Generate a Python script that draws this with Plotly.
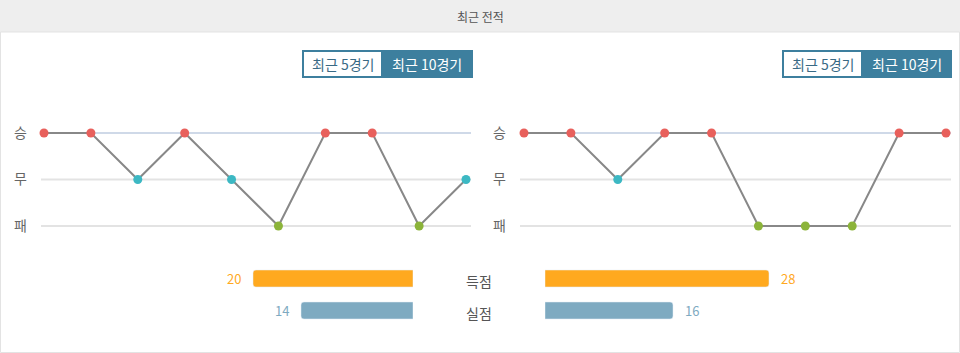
import plotly.graph_objects as go

W, H = 960, 353
FONT = "Noto Sans CJK KR"

# ---- data ----
title_text = "최근 전적"
btn_labels = ["최근 5경기", "최근 10경기"]
result_labels = ["패", "무", "승"]          # level 0,1,2
home_results = ["승", "승", "무", "승", "무", "패", "승", "승", "패", "무"]
away_results = ["승", "승", "무", "승", "승", "패", "패", "패", "승", "승"]
bar_categories = ["득점", "실점"]
home_goals = [20, 14]
away_goals = [28, 16]

# ---- styles ----
RES_COLOR = {"승": "#e8605c", "무": "#3cb8c3", "패": "#8cb43a"}
GRID_COLOR = {"승": "#cfd9e8", "무": "#e3e3e3", "패": "#e3e3e3"}
BAR_COLORS = ["#ffa91f", "#7eaac1"]
LINE_COLOR = "#888888"
BTN_COLOR = "#3d7f9e"


def fx(p):
    return p / W


def fy(p):
    return 1 - p / H


fig = go.Figure()
shapes = []
annotations = []

# header
shapes.append(dict(type="rect", xref="paper", yref="paper", x0=0, x1=1, y0=fy(32), y1=1,
                   fillcolor="#eeeeee", line=dict(width=0), layer="below"))
shapes.append(dict(type="rect", xref="paper", yref="paper", x0=fx(0.5), x1=fx(959.5), y0=fy(352.5), y1=fy(32),
                   fillcolor="rgba(0,0,0,0)", line=dict(color="#e3e3e3", width=1), layer="below"))
annotations.append(dict(text=title_text, xref="paper", yref="paper", x=0.5, y=fy(17), showarrow=False,
                        font=dict(family=FONT, size=12, color="#555555"), xanchor="center", yanchor="middle"))

panels = [
    dict(results=home_results, xdom=(41, 471), first=44, btn=(302, 473), xa="x", ya="y"),
    dict(results=away_results, xdom=(520, 951), first=524, btn=(782, 952), xa="x2", ya="y2"),
]
step = (466 - 44) / 9
ydom = (fy(240), fy(119))

layout_axes = {}
for i, p in enumerate(panels):
    res = p["results"]
    lv = [result_labels.index(r) for r in res]
    xs = list(range(len(res)))
    r0 = -(p["first"] - p["xdom"][0]) / step
    r1 = (len(res) - 1) + (p["xdom"][1] - (p["first"] + step * (len(res) - 1))) / step
    fig.add_trace(go.Scatter(x=xs, y=lv, mode="lines+markers", xaxis=p["xa"], yaxis=p["ya"],
                             line=dict(color=LINE_COLOR, width=2),
                             marker=dict(size=9, color=[RES_COLOR[r] for r in res]),
                             showlegend=False, hoverinfo="skip", cliponaxis=False))
    sfx = "" if i == 0 else "2"
    layout_axes["xaxis" + sfx] = dict(domain=[fx(p["xdom"][0]), fx(p["xdom"][1])], range=[r0, r1],
                                      visible=False, fixedrange=True,
                                      **({} if i == 0 else {"anchor": "y2"}))
    layout_axes["yaxis" + sfx] = dict(domain=list(ydom), range=[-0.3, 2.3], tickvals=[0, 1, 2],
                                      ticktext=result_labels, showgrid=False, zeroline=False,
                                      showline=False, ticks="", ticklabelstandoff=13,
                                      tickfont=dict(family=FONT, size=14, color="#666666"),
                                      **({} if i == 0 else {"anchor": "x2"}))
    for k, lab in enumerate(result_labels):
        shapes.append(dict(type="line", xref=p["xa"] + " domain", yref=p["ya"], x0=0, x1=1, y0=k, y1=k,
                           line=dict(color=GRID_COLOR[lab], width=2), layer="below"))
    # buttons
    bx0, bx1 = p["btn"]
    shapes.append(dict(type="rect", xref="paper", yref="paper", x0=fx(bx0), x1=fx(bx1), y0=fy(78), y1=fy(50),
                       fillcolor=BTN_COLOR, line=dict(width=0)))
    split = bx0 + 79
    shapes.append(dict(type="rect", xref="paper", yref="paper", x0=fx(bx0 + 2), x1=fx(split), y0=fy(76), y1=fy(52),
                       fillcolor="#ffffff", line=dict(width=0)))
    annotations.append(dict(text=btn_labels[0], xref="paper", yref="paper", x=fx((bx0 + 2 + split) / 2), y=fy(64),
                            showarrow=False, font=dict(family=FONT, size=14, color="#3a6a85"),
                            xanchor="center", yanchor="middle"))
    annotations.append(dict(text=btn_labels[1], xref="paper", yref="paper", x=fx((split + bx1) / 2), y=fy(64),
                            showarrow=False, font=dict(family=FONT, size=14, color="#ffffff"),
                            xanchor="center", yanchor="middle"))

# bars
bar_ydom = [fy(326.5), fy(262.5)]
for j, cat in enumerate(bar_categories):
    fig.add_trace(go.Bar(x=[home_goals[j]], y=[cat], orientation="h", xaxis="x3", yaxis="y3",
                         marker=dict(color=BAR_COLORS[j], cornerradius=3), width=0.53,
                         showlegend=False, hoverinfo="skip"))
    fig.add_trace(go.Bar(x=[away_goals[j]], y=[cat], orientation="h", xaxis="x4", yaxis="y4",
                         marker=dict(color=BAR_COLORS[j], cornerradius=3), width=0.53,
                         showlegend=False, hoverinfo="skip"))
    annotations.append(dict(text=str(home_goals[j]), xref="x3", yref="y3", x=home_goals[j], y=cat,
                            xanchor="right", yanchor="middle", xshift=-10, showarrow=False,
                            font=dict(family=FONT, size=13, color=BAR_COLORS[j])))
    annotations.append(dict(text=str(away_goals[j]), xref="x4", yref="y4", x=away_goals[j], y=cat,
                            xanchor="left", yanchor="middle", xshift=10, showarrow=False,
                            font=dict(family=FONT, size=13, color=BAR_COLORS[j])))
    annotations.append(dict(text=cat, xref="paper", yref="y3", x=fx(479), y=cat, yshift=-2,
                            xanchor="center", yanchor="middle", showarrow=False,
                            font=dict(family=FONT, size=14, color="#555555")))

layout_axes["xaxis3"] = dict(domain=[fx(173), fx(413)], range=[30, 0], visible=False, anchor="y3", fixedrange=True)
layout_axes["yaxis3"] = dict(domain=bar_ydom, range=[1.5, -0.5], visible=False, anchor="x3",
                             type="category", categoryorder="array", categoryarray=bar_categories)
layout_axes["xaxis4"] = dict(domain=[fx(545), fx(785)], range=[0, 30], visible=False, anchor="y4", fixedrange=True)
layout_axes["yaxis4"] = dict(domain=bar_ydom, range=[1.5, -0.5], visible=False, anchor="x4",
                             type="category", categoryorder="array", categoryarray=bar_categories)

fig.update_layout(width=W, height=H, margin=dict(l=0, r=0, t=0, b=0),
                  paper_bgcolor="#ffffff", plot_bgcolor="rgba(0,0,0,0)",
                  shapes=shapes, annotations=annotations, barmode="overlay",
                  font=dict(family=FONT), **layout_axes)

fig.write_html("out.html", config={"displayModeBar": False})
